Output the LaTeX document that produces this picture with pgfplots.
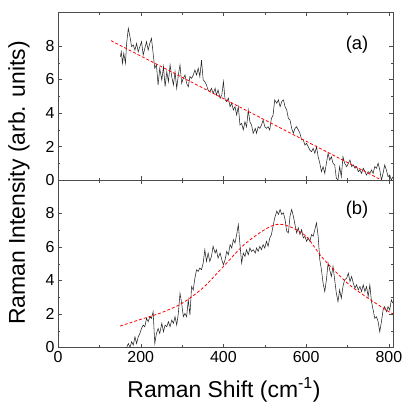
\documentclass[border=0pt]{standalone}
\usepackage{fontspec}
\setmainfont{Liberation Sans}
\usepackage{pgfplots}
\pgfplotsset{compat=1.18}
\usepackage{pgfplotstable}

% spectrum (a)
\pgfplotstableread{
x y
151 7.36
153 7.66
156 6.97
159 7.56
163 6.97
166 8.16
170 9.05
174 8.56
178 7.96
182 8.06
186 7.76
190 8.16
194 7.66
198 7.96
202 8.26
206 7.46
210 7.86
214 8.26
218 7.76
222 8.16
226 8.46
230 7.56
234 6.67
238 6.87
242 5.67
246 6.67
251 5.97
255 6.77
259 5.57
263 6.47
267 5.87
271 6.87
275 6.17
279 5.67
283 6.47
287 5.47
291 6.27
295 6.87
299 5.77
303 6.07
307 6.27
311 5.77
315 5.57
319 6.17
323 6.07
327 6.27
331 6.57
335 6.27
339 6.67
343 6.17
347 7.16
351 5.97
355 5.87
359 5.67
363 5.37
367 5.27
371 5.47
375 5.17
380 5.47
383 5.07
387 5.37
392 4.88
396 5.07
400 5.87
404 4.78
408 4.68
412 4.88
416 4.38
420 4.58
424 4.18
428 4.38
432 3.88
436 4.38
440 3.28
444 3.38
448 2.99
452 3.48
456 3.18
460 4.18
464 3.48
468 3.28
472 2.79
477 3.08
480 2.79
484 3.18
488 3.08
492 3.28
496 3.58
500 3.18
504 3.08
508 3.18
512 2.99
516 3.68
520 3.88
524 4.78
529 4.58
533 4.78
537 4.38
541 4.68
545 4.78
549 4.38
553 4.18
557 3.68
561 3.58
565 3.08
569 2.79
573 3.08
577 3.18
581 2.99
585 2.79
589 2.39
593 2.39
597 2.09
601 2.19
605 1.99
609 1.79
613 1.69
617 1.89
621 1.59
625 1.99
629 1.39
633 1.00
637 0.50
641 0.80
645 0.40
649 1.00
653 1.59
657 1.19
661 1.39
665 1.00
669 0.90
673 0.10
677 0.00
681 0.80
685 0.20
689 1.39
693 1.00
698 0.80
702 1.00
706 1.19
710 0.80
714 0.90
718 0.70
722 0.80
726 0.50
730 0.60
734 0.40
738 0.70
742 0.50
746 0.30
750 0.50
754 0.40
758 0.60
762 0.40
766 0.80
770 0.70
774 1.00
778 0.60
782 0.00
786 0.40
790 0.90
794 0.60
798 0.20
802 0.30
806 0.00
810 0.20
}\specA

% spectrum (b)
\pgfplotstableread{
x y
166 0.00
170 0.24
174 0.00
178 0.34
182 0.14
186 0.64
190 0.24
194 0.64
198 0.84
202 1.14
206 1.34
210 1.24
214 1.74
218 1.54
222 1.84
226 1.74
230 2.14
234 0.24
238 0.84
242 1.14
246 0.84
251 1.44
255 0.94
259 1.34
263 1.24
267 1.54
271 1.24
275 1.64
279 1.44
283 1.84
287 1.34
291 2.04
295 3.24
299 2.64
303 1.84
307 2.04
311 1.84
315 2.84
319 1.94
323 3.64
327 3.44
331 4.14
335 4.64
339 4.54
343 4.74
347 4.64
351 5.04
355 5.84
359 5.14
363 5.64
367 5.14
371 5.44
375 6.04
380 5.64
383 5.84
387 5.34
392 5.64
396 5.24
400 4.94
404 5.24
408 5.74
412 5.54
416 6.14
420 5.94
424 6.44
428 6.24
432 6.74
436 7.34
440 6.14
444 5.04
448 5.64
452 5.44
456 5.84
460 5.54
464 5.94
468 5.74
472 5.84
477 5.64
480 5.94
484 5.74
488 6.04
492 5.84
496 6.14
500 5.94
504 6.34
508 6.04
512 6.54
516 6.74
520 7.24
524 7.74
529 8.14
533 7.94
537 8.24
541 7.94
545 8.04
549 7.64
553 6.94
557 6.84
561 7.84
565 8.24
569 7.84
573 7.34
577 6.84
581 7.14
585 6.74
589 7.04
593 6.54
597 6.64
601 6.34
605 6.54
609 6.34
613 6.74
617 6.64
621 7.04
625 7.44
629 6.64
633 5.24
637 4.64
641 3.84
645 3.34
649 4.04
653 5.04
657 4.64
661 4.24
665 4.84
669 4.04
673 3.24
677 2.74
681 3.44
685 2.94
689 3.64
693 4.04
698 4.14
702 4.44
706 3.94
710 4.24
714 3.84
718 3.54
722 3.74
726 3.44
730 3.64
734 3.34
738 3.74
742 3.34
746 3.64
750 3.04
754 3.74
758 2.74
762 2.24
766 1.74
770 1.84
774 1.54
778 0.94
782 1.54
786 2.24
790 2.44
794 2.14
798 2.44
802 2.24
806 2.84
810 2.64
}\specB

% fit curve (b)
\pgfplotstableread{
x y
150 1.28
200 1.68
250 2.08
300 2.64
350 3.55
400 4.84
450 6.14
500 7.04
530 7.35
560 7.22
600 6.64
640 5.34
700 3.84
750 2.94
800 2.14
810 2.02
}\fitB

\pgfplotsset{
  panel/.style={
    scale only axis, width=335bp, height=167.5bp,
    xmin=0, xmax=810, ymin=0, ymax=10,
    xtick={0,200,400,600,800}, ytick={0,2,4,6,8},
    minor x tick num=1, minor y tick num=1,
    tick align=inside, tick pos=both,
    major tick length=4bp, minor tick length=2.5bp,
    axis line style={black!70}, every tick/.style={black!70},
    ticklabel style={font=\fontsize{16}{18}\selectfont},
    /pgf/number format/assume math mode=true,
    clip=true,
  },
  spec/.style={black!85, line width=0.55pt},
  fit/.style={red, line width=0.8pt, dash pattern=on 3pt off 2pt},
}

\begin{document}
\begin{tikzpicture}
\useasboundingbox (-58bp,-222bp) rectangle (347bp,180bp);
\begin{axis}[panel, name=top, at={(0,0)}, anchor=south west, xticklabels={}]
\addplot[spec] table {\specA};
\addplot[fit] coordinates {(128,8.32) (782,0)};
\node[font=\fontsize{18.5}{20}\selectfont] at (axis cs:723,8.1) {(a)};
\end{axis}
\begin{axis}[panel, name=bot, at={(0,0)}, anchor=north west]
\addplot[spec] table {\specB};
\addplot[fit, smooth] table {\fitB};
\node[font=\fontsize{18.5}{20}\selectfont] at (axis cs:723,8.2) {(b)};
\end{axis}
\node[anchor=base, font=\fontsize{23}{26}\selectfont] at (166bp,-217bp) {Raman Shift (cm\textsuperscript{-1})};
\node[rotate=90, font=\fontsize{23}{26}\selectfont] at (-39bp,-3bp) {Raman Intensity (arb. units)};
\end{tikzpicture}
\end{document}
